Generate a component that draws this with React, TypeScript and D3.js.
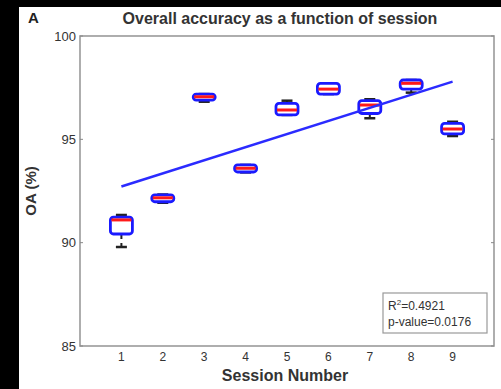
import { useRef, useEffect } from 'react';
import * as d3 from 'd3';

// Session numbers and box statistics (OA %)
const sessions = [1, 2, 3, 4, 5, 6, 7, 8, 9];
const whiskerLow = [89.79, 91.93, 96.82, 93.4, 96.18, 97.19, 96.02, 97.26, 95.16];
const q1 = [90.42, 91.98, 96.9, 93.42, 96.18, 97.19, 96.25, 97.43, 95.26];
const median = [91.1, 92.17, 97.06, 93.6, 96.42, 97.43, 96.66, 97.71, 95.5];
const q3 = [91.24, 92.31, 97.19, 93.76, 96.74, 97.71, 96.87, 97.87, 95.77];
const whiskerHigh = [91.34, 92.33, 97.19, 93.76, 96.87, 97.71, 96.94, 97.87, 95.85];

// Linear fit
const fitIntercept = 92.08;
const fitSlope = 0.635;

const yTicks = [85, 90, 95, 100];
const statLines = ['R²=0.4921', 'p-value=0.0176'];

export default function App() {
  const svgRef = useRef(null);

  useEffect(() => {
    if (!svgRef.current) return;
    const svg = d3.select(svgRef.current);
    svg.selectAll('*').remove();

    const width = 501;
    const height = 389;
    const margin = { top: 36, right: 7, bottom: 43, left: 80 };
    const font = '"Liberation Sans", Arial, sans-serif';

    svg.append('rect').attr('width', width).attr('height', height).attr('fill', '#fff');
    // black scan border
    svg.append('rect').attr('width', width).attr('height', 7).attr('fill', '#000');
    svg.append('rect').attr('width', 19).attr('height', height).attr('fill', '#000');

    const x = d3.scaleLinear().domain([0, 10]).range([margin.left, width - margin.right]);
    const y = d3.scaleLinear().domain([85, 100]).range([height - margin.bottom, margin.top]);

    const data = sessions.map((s, i) => ({
      s,
      lo: whiskerLow[i],
      q1: q1[i],
      med: median[i],
      q3: q3[i],
      hi: whiskerHigh[i],
    }));

    // axes box
    svg
      .append('rect')
      .attr('x', x(0))
      .attr('y', y(100))
      .attr('width', x(10) - x(0))
      .attr('height', y(85) - y(100))
      .attr('fill', 'none')
      .attr('stroke', '#9a9a9a')
      .attr('stroke-width', 1.6);

    // y ticks
    yTicks.forEach((t) => {
      svg
        .append('line')
        .attr('x1', x(0))
        .attr('x2', x(0) + 3)
        .attr('y1', y(t))
        .attr('y2', y(t))
        .attr('stroke', '#888');
      svg
        .append('line')
        .attr('x1', x(10))
        .attr('x2', x(10) - 3)
        .attr('y1', y(t))
        .attr('y2', y(t))
        .attr('stroke', '#888');
      svg
        .append('text')
        .attr('x', x(0) - 4)
        .attr('y', y(t))
        .attr('dy', '0.35em')
        .attr('text-anchor', 'end')
        .attr('font-family', font)
        .attr('font-size', 13)
        .attr('fill', '#333')
        .text(t);
    });

    // x tick labels
    sessions.forEach((s) => {
      svg
        .append('text')
        .attr('x', x(s))
        .attr('y', y(85) + 15)
        .attr('text-anchor', 'middle')
        .attr('font-family', font)
        .attr('font-size', 12)
        .attr('fill', '#333')
        .text(s);
    });

    const half = 11;
    const capHalf = 5.5;
    const g = svg.append('g');

    // whiskers
    g.selectAll('.wl')
      .data(data)
      .enter()
      .append('line')
      .attr('x1', (d) => x(d.s))
      .attr('x2', (d) => x(d.s))
      .attr('y1', (d) => y(d.q1))
      .attr('y2', (d) => y(d.lo))
      .attr('stroke', '#222')
      .attr('stroke-width', 2)
      .attr('stroke-dasharray', '5,4');
    g.selectAll('.wh')
      .data(data)
      .enter()
      .append('line')
      .attr('x1', (d) => x(d.s))
      .attr('x2', (d) => x(d.s))
      .attr('y1', (d) => y(d.q3))
      .attr('y2', (d) => y(d.hi))
      .attr('stroke', '#222')
      .attr('stroke-width', 2)
      .attr('stroke-dasharray', '5,4');
    ['lo', 'hi'].forEach((k) => {
      g.selectAll('.cap' + k)
        .data(data)
        .enter()
        .append('line')
        .attr('x1', (d) => x(d.s) - capHalf)
        .attr('x2', (d) => x(d.s) + capHalf)
        .attr('y1', (d) => y(d[k]))
        .attr('y2', (d) => y(d[k]))
        .attr('stroke', '#222')
        .attr('stroke-width', 2.5);
    });

    // boxes
    g.selectAll('.box')
      .data(data)
      .enter()
      .append('rect')
      .attr('x', (d) => x(d.s) - half)
      .attr('y', (d) => y(d.q3))
      .attr('width', half * 2)
      .attr('height', (d) => y(d.q1) - y(d.q3))
      .attr('rx', 3)
      .attr('fill', '#fff')
      .attr('stroke', '#1a1aff')
      .attr('stroke-width', 2.8);

    // medians
    g.selectAll('.med')
      .data(data)
      .enter()
      .append('line')
      .attr('x1', (d) => x(d.s) - half + 1)
      .attr('x2', (d) => x(d.s) + half - 1)
      .attr('y1', (d) => y(d.med))
      .attr('y2', (d) => y(d.med))
      .attr('stroke', '#ff1a1a')
      .attr('stroke-width', 3);

    // regression line
    const fit = d3
      .line<number>()
      .x((s) => x(s))
      .y((s) => y(fitIntercept + fitSlope * s));
    svg
      .append('path')
      .attr('d', fit([sessions[0], sessions[sessions.length - 1]]))
      .attr('fill', 'none')
      .attr('stroke', '#2b2bff')
      .attr('stroke-width', 2.5);

    // stats box
    const bx = 383;
    const by = 293;
    svg
      .append('rect')
      .attr('x', bx)
      .attr('y', by)
      .attr('width', 104)
      .attr('height', 40)
      .attr('fill', '#fff')
      .attr('stroke', '#999')
      .attr('stroke-width', 1.2);
    const st = svg
      .append('text')
      .attr('font-family', font)
      .attr('font-size', 12)
      .attr('fill', '#333');
    st.append('tspan').attr('x', bx + 5).attr('y', by + 17).text('R');
    st.append('tspan').attr('dy', -5).attr('font-size', 8).text('2');
    st.append('tspan').attr('dy', 5).text(statLines[0].slice(2));
    svg
      .append('text')
      .attr('x', bx + 5)
      .attr('y', by + 33)
      .attr('font-family', font)
      .attr('font-size', 12)
      .attr('fill', '#333')
      .text(statLines[1]);

    // titles
    svg
      .append('text')
      .attr('x', 280)
      .attr('y', 24)
      .attr('text-anchor', 'middle')
      .attr('font-family', font)
      .attr('font-weight', 'bold')
      .attr('font-size', 16)
      .attr('fill', '#333')
      .text('Overall accuracy as a function of session');
    svg
      .append('text')
      .attr('x', 28)
      .attr('y', 23)
      .attr('font-family', font)
      .attr('font-weight', 'bold')
      .attr('font-size', 15)
      .attr('fill', '#222')
      .text('A');
    svg
      .append('text')
      .attr('x', 285)
      .attr('y', 381)
      .attr('text-anchor', 'middle')
      .attr('font-family', font)
      .attr('font-weight', 'bold')
      .attr('font-size', 16)
      .attr('fill', '#333')
      .text('Session Number');
    svg
      .append('text')
      .attr('transform', `translate(36,${y(92.5)}) rotate(-90)`)
      .attr('text-anchor', 'middle')
      .attr('font-family', font)
      .attr('font-weight', 'bold')
      .attr('font-size', 15)
      .attr('fill', '#333')
      .text('OA (%)');
  }, []);

  return (
    <div style={{ position: 'fixed', left: 0, top: 0 }}>
      <svg ref={svgRef} width="501" height="389" viewBox="0 0 501 389" style={{ display: 'block' }} />
    </div>
  );
}
